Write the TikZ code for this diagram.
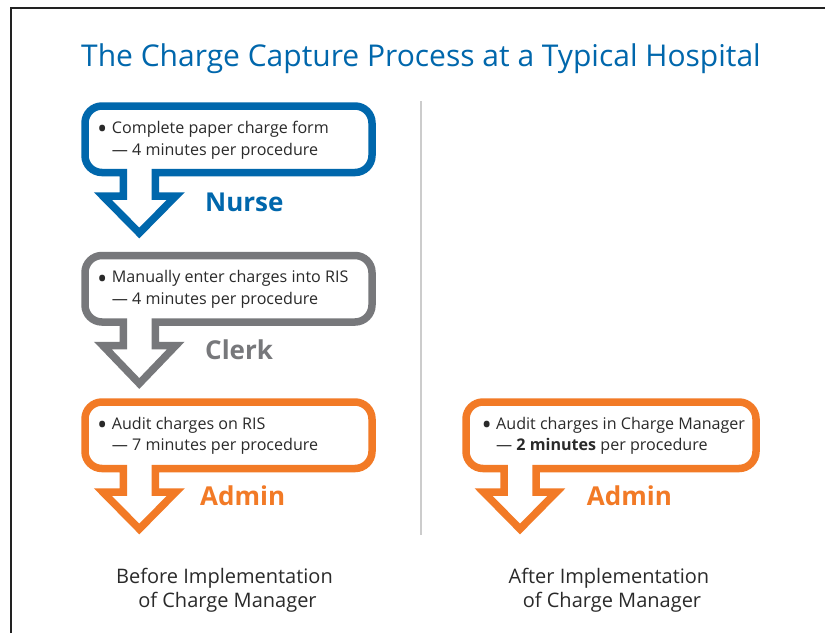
\documentclass[tikz,border=0pt]{standalone}
\usepackage{fontspec}
\setmainfont{Open Sans}
\definecolor{cblue}{HTML}{0067AC}
\definecolor{cgray}{HTML}{77787B}
\definecolor{corange}{HTML}{F27A26}
\definecolor{ctext}{HTML}{2A2A2A}
\definecolor{cdiv}{HTML}{CCCCCC}
\definecolor{cframe}{HTML}{222222}
\newcommand\bigbullet{\makebox[14.7pt][l]{\raisebox{-5.6pt}{\scalebox{1.7}{•}}}}
% x0 y0 x1 y1 stem-centre wing-y tip-y colour
\newcommand\calloutshape[8]{%
  \draw[callout, draw=#8] ({#5-16},#4) -- ({#1+17},#4)
    .. controls ({#1+7.6},#4) and (#1,{#4-7.6}) .. (#1,{#4-17})
    -- (#1,{#2+17})
    .. controls (#1,{#2+7.6}) and ({#1+7.6},#2) .. ({#1+17},#2)
    -- ({#3-17},#2)
    .. controls ({#3-7.6},#2) and (#3,{#2+7.6}) .. (#3,{#2+17})
    -- (#3,{#4-17})
    .. controls (#3,{#4-7.6}) and ({#3-7.6},#4) .. ({#3-17},#4)
    -- ({#5+16},#4) -- ({#5+16},#6) -- ({#5+36.5},#6) -- (#5,#7)
    -- ({#5-36.5},#6) -- ({#5-16},#6) -- cycle;}
\begin{document}
\begin{tikzpicture}[x=1pt,y=-1pt,
  callout/.style={line width=7.5pt, line join=miter},
  body/.style={anchor=base west, inner sep=0pt, text=ctext, font=\fontsize{16.1}{18}\selectfont},
  role/.style={anchor=base west, inner sep=0pt, font=\fontsize{26}{28}\selectfont\bfseries},
  caption/.style={anchor=base, inner sep=0pt, text=ctext, font=\fontsize{20}{22}\selectfont}]
\useasboundingbox (0,0) rectangle (825,633);
\fill[white] (0,0) rectangle (825,633);
% frame
\draw[cframe, line width=2pt] (10.5,633) -- (10.5,8.3) -- (825,8.3);
% title
\node[anchor=base, inner sep=0pt, text=cblue, font=\fontsize{30}{34}\selectfont] (title) at (421,66) {The Charge Capture Process at a Typical Hospital};
% divider
\draw[cdiv, line width=2pt] (421,101) -- (421,535);
% callouts
\calloutshape{85}{106}{372}{172.5}{139.3}{196}{233}{cblue}
\calloutshape{85}{255.5}{372}{322}{139.3}{345.5}{383.5}{cgray}
\calloutshape{85}{402}{372}{468.5}{139.3}{492}{529}{corange}
\calloutshape{466}{402}{756}{468.5}{520}{492}{529}{corange}
% texts
\node[body] (n1a) at (97,133.3) {\bigbullet Complete paper charge form};
\node[body] (n1b) at (111.7,155) {— 4 minutes per procedure};
\node[role, text=cblue] (nurse) at (205,211.7) {Nurse};
\node[body] (n2a) at (97,282.5) {\bigbullet Manually enter charges into RIS};
\node[body] (n2b) at (111.7,304) {— 4 minutes per procedure};
\node[role, text=cgray] (clerk) at (205,359) {Clerk};
\node[body] (n3a) at (97,429.3) {\bigbullet Audit charges on RIS};
\node[body] (n3b) at (111.7,450.7) {— 7 minutes per procedure};
\node[role, text=corange] (admin1) at (200,505) {Admin};
\node[body] (n4a) at (481.3,429.3) {\bigbullet Audit charges in Charge Manager};
\node[body] (n4b) at (496,450.7) {— \textbf{2 minutes} per procedure};
\node[role, text=corange] (admin2) at (586.7,505) {Admin};
% captions
\node[caption] (c1a) at (224.5,583) {Before Implementation};
\node[caption] (c1b) at (227.5,607) {of Charge Manager};
\node[caption] (c2a) at (609,583) {After Implementation};
\node[caption] (c2b) at (612,607) {of Charge Manager};
\end{tikzpicture}
\end{document}
